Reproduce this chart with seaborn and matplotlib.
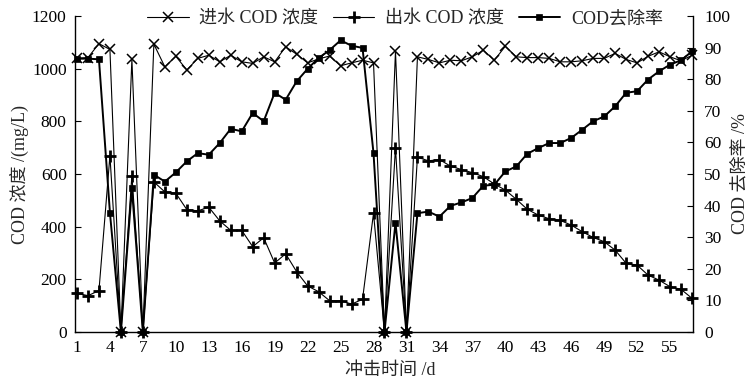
import matplotlib
matplotlib.use('Agg')
import matplotlib.pyplot as plt
import numpy as np
import pandas as pd
import seaborn as sns

# ---------------- data ----------------
days = list(range(1, 58))

influent = [1040, 1042, 1095, 1073, 0, 1035, 0, 1093, 1007, 1047,
            995, 1039, 1051, 1026, 1051, 1026, 1020, 1045, 1026, 1083,
            1055, 1022, 1037, 1048, 1011, 1022, 1032, 1022, 0, 1067,
            0, 1045, 1035, 1022, 1032, 1030, 1045, 1070, 1032, 1085,
            1045, 1042, 1042, 1039, 1026, 1026, 1030, 1039, 1039, 1058,
            1035, 1022, 1047, 1064, 1045, 1030, 1051]

effluent = [147, 138, 157, 670, 0, 594, 0, 570, 532, 527,
            465, 460, 474, 422, 386, 386, 324, 358, 262, 297,
            229, 175, 153, 119, 119, 106, 124, 451, 0, 700,
            0, 664, 650, 655, 630, 617, 605, 590, 562, 539,
            504, 466, 444, 430, 424, 406, 381, 359, 343, 311,
            261, 254, 216, 197, 172, 162, 128]

removal = [86.5, 86.5, 86.3, 37.8, 0, 45.5, 0, 49.8, 47.6, 50.5,
           54.0, 56.6, 56.1, 59.8, 64.3, 63.5, 69.3, 66.7, 75.7, 73.5,
           79.3, 83.3, 86.7, 89.2, 92.3, 90.6, 89.9, 56.6, 0, 34.6,
           0, 37.6, 38.1, 36.5, 39.9, 41.0, 42.4, 46.3, 46.6, 50.8,
           52.4, 56.4, 58.2, 59.8, 59.8, 61.4, 64.0, 66.7, 68.2, 71.4,
           75.7, 76.2, 79.9, 82.5, 84.6, 86.0, 88.8]

series_labels = ['进水 COD 浓度', '出水 COD 浓度', 'COD去除率']
x_label_days = list(range(1, 56, 3))
left_ticks = [0, 200, 400, 600, 800, 1000, 1200]
right_ticks = [0, 10, 20, 30, 40, 50, 60, 70, 80, 90, 100]

# ---------------- style ----------------
sns.set_theme(style='white')
plt.rcParams['font.family'] = ['Liberation Serif', 'Noto Sans CJK SC']
plt.rcParams['axes.unicode_minus'] = False

W, H = 749, 382
fig = plt.figure(figsize=(W / 100, H / 100), dpi=100)
L, R, T, B = 75, 693, 16, 332
ax = fig.add_axes([L / W, 1 - B / H, (R - L) / W, (B - T) / H])

df = pd.DataFrame({'day': days, 'inf': influent, 'eff': effluent, 'rem': removal})

sns.lineplot(data=df, x='day', y='inf', ax=ax, color='black', lw=0.8,
             marker='x', markersize=7, markeredgewidth=1.1,
             markeredgecolor='black', clip_on=False, label=series_labels[0])
sns.lineplot(data=df, x='day', y='eff', ax=ax, color='black', lw=0.8,
             marker='+', markersize=9, markeredgewidth=2.0,
             markeredgecolor='black', clip_on=False, label=series_labels[1])

ax2 = ax.twinx()
sns.lineplot(data=df, x='day', y='rem', ax=ax2, color='black', lw=1.4,
             marker='s', markersize=4, markeredgewidth=0.5,
             markeredgecolor='black', markerfacecolor='black',
             clip_on=False, label=series_labels[2])

for a in (ax, ax2):
    lg = a.get_legend()
    if lg is not None:
        lg.remove()

ax.set_xlim(0.82, 57.09)
ax.set_ylim(0, 1200)
ax2.set_ylim(0, 100)

ax.set_xticks(days)
ax.set_xticklabels([str(d) if d in x_label_days else '' for d in days])
ax.set_yticks(left_ticks)
ax.set_yticklabels([str(v) for v in left_ticks])
ax2.set_yticks(right_ticks)
ax2.set_yticklabels([str(v) for v in right_ticks])

ax.tick_params(axis='x', direction='in', length=4.5, width=0.8, labelsize=12.5,
               pad=6, colors='black')
ax.tick_params(axis='y', direction='in', length=4, width=0.8, labelsize=12.5,
               pad=6, colors='black')
ax2.tick_params(axis='y', direction='in', length=4, width=0.8, labelsize=12.5,
                pad=8, colors='black')

for a in (ax, ax2):
    a.spines['top'].set_visible(False)
    for s in ('left', 'right', 'bottom'):
        a.spines[s].set_color('black')
        a.spines[s].set_linewidth(1.0)
ax.spines['right'].set_visible(False)
ax2.spines['left'].set_visible(False)
ax2.spines['bottom'].set_visible(False)

ax.set_xlabel('冲击时间 /d', fontsize=13)
ax.xaxis.label.set_va('center')
ax.xaxis.set_label_coords((390 - L) / (R - L), (B - 371) / (B - T))
ax.set_ylabel('COD 浓度 /(mg/L)', fontsize=13)
ax.yaxis.label.set_va('center')
ax.yaxis.set_label_coords((19 - L) / (R - L), 0.5)
ax2.set_ylabel('COD 去除率 /%', fontsize=13, rotation=90)
ax2.yaxis.label.set_va('center')
ax2.yaxis.set_label_coords((740 - L) / (R - L), 0.5)

h1, l1 = ax.get_legend_handles_labels()
h2, l2 = ax2.get_legend_handles_labels()
fig.legend(h1 + h2, l1 + l2, loc='center', bbox_to_anchor=(405 / W, 1 - 19 / H),
           ncol=3, frameon=False, fontsize=13, handlelength=2.3,
           handletextpad=0.6, columnspacing=0.8, borderaxespad=0)

fig.savefig('out.png', dpi=100)
